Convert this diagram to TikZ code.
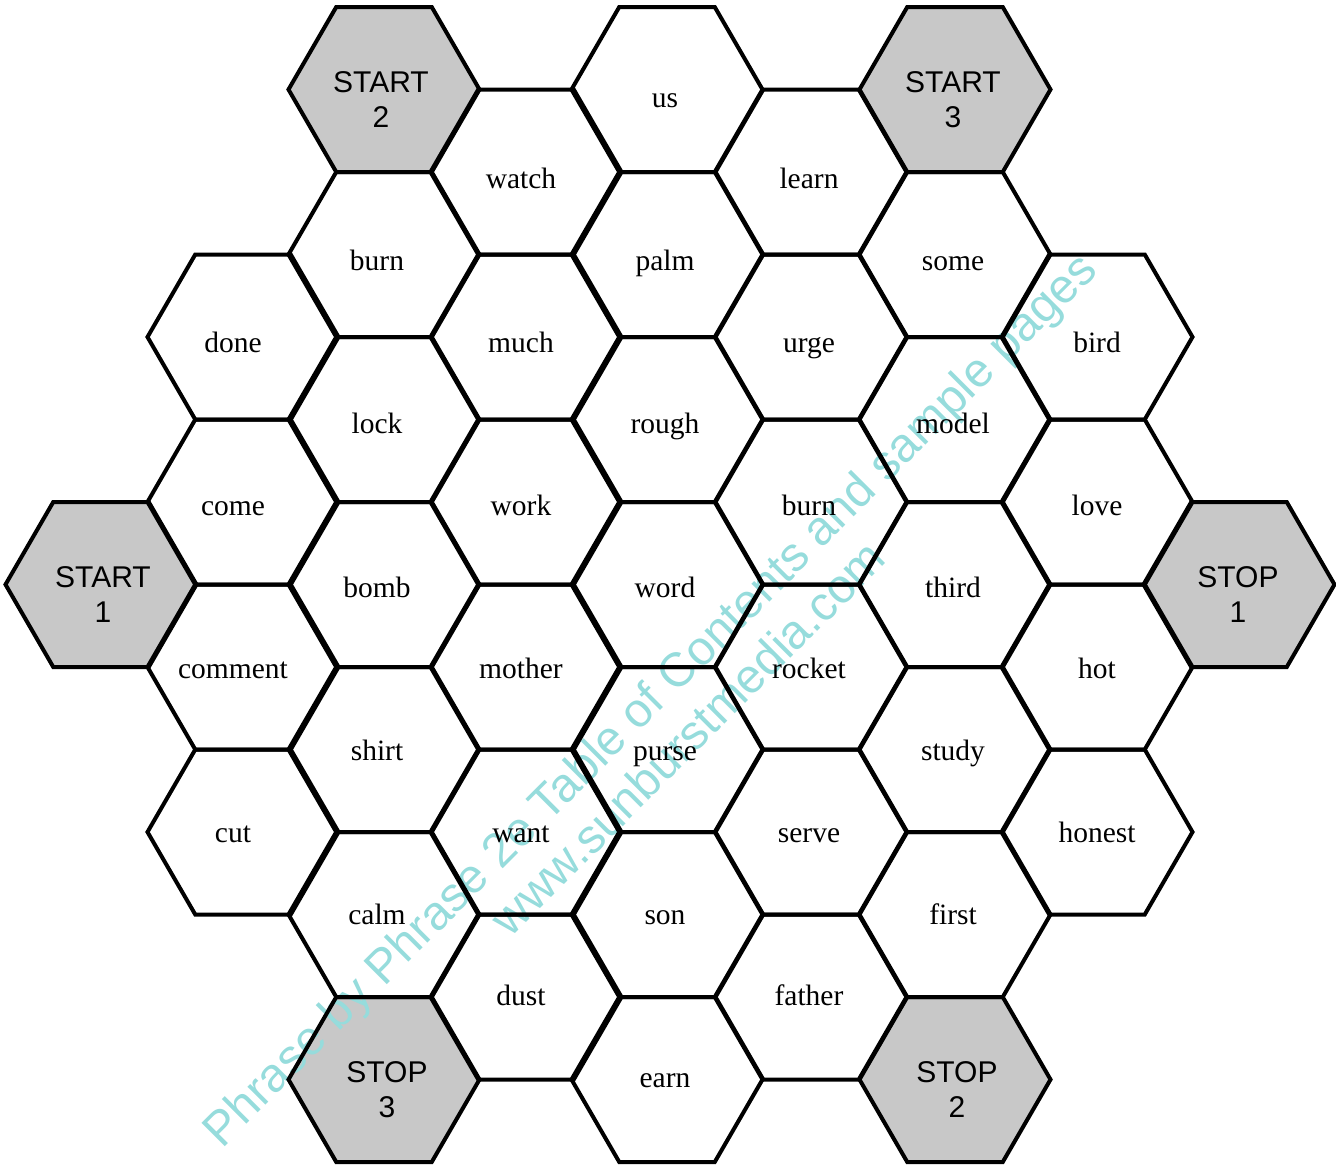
\documentclass[tikz,border=0pt]{standalone}
\usepackage{fontspec}
\setmainfont{Liberation Serif}
\newfontfamily\arialf{Liberation Sans}
\definecolor{hexgray}{RGB}{200,200,200}
\definecolor{wmcyan}{RGB}{150,220,220}
\begin{document}
\begin{tikzpicture}[x=1pt,y=-1pt,
  hexline/.style={line width=4pt, line join=miter},
  hexfill/.style={fill=hexgray},
  wordlabel/.style={font=\fontsize{29.5}{35}\selectfont, inner sep=0pt, anchor=base},
  endlabel/.style={font=\arialf\fontsize{30}{35}\selectfont, align=center, inner sep=0pt},
  wmtext/.style={font=\arialf\fontsize{48}{55}\selectfont, align=center, inner sep=0pt, text=wmcyan}
]
\useasboundingbox (0,0) rectangle (1336,1165);

% gray start/stop cells: fills
\foreach \c/\r/\la/\lb/\tx in {0/6/START/1/103, 2/0/START/2/381, 6/0/START/3/953,
                               8/6/STOP/1/1238, 6/12/STOP/2/957, 2/12/STOP/3/387} {
  \pgfmathsetmacro\hx{{101,243,384,526,667,811,955,1097,1239}[\c]}
  \pgfmathsetmacro\hy{89.5+82.5*\r}
  \fill[hexfill, shift={(\hx,\hy)}] (-95.5,0) -- (-47.75,-82.5) -- (47.75,-82.5) -- (95.5,0) -- (47.75,82.5) -- (-47.75,82.5) -- cycle;
}

% watermark
\node[wmtext, rotate=45] (wm) at (668,718) {Phrase by Phrase 2e Table of Contents and sample pages\\www.sunburstmedia.com};

% gray cells: outlines and labels
\foreach \c/\r/\la/\lb/\tx in {0/6/START/1/103, 2/0/START/2/381, 6/0/START/3/953,
                               8/6/STOP/1/1238, 6/12/STOP/2/957, 2/12/STOP/3/387} {
  \pgfmathsetmacro\hx{{101,243,384,526,667,811,955,1097,1239}[\c]}
  \pgfmathsetmacro\hy{89.5+82.5*\r}
  \draw[hexline, shift={(\hx,\hy)}] (-95.5,0) -- (-47.75,-82.5) -- (47.75,-82.5) -- (95.5,0) -- (47.75,82.5) -- (-47.75,82.5) -- cycle;
  \node[endlabel] (g\c-\r) at (\tx,\hy+10) {\la\\\lb};
}

% word cells
\foreach \c/\r/\w in {1/3/done, 1/5/come, 1/7/comment, 1/9/cut,
  2/2/burn, 2/4/lock, 2/6/bomb, 2/8/shirt, 2/10/calm,
  3/1/watch, 3/3/much, 3/5/work, 3/7/mother, 3/9/want, 3/11/dust,
  4/0/us, 4/2/palm, 4/4/rough, 4/6/word, 4/8/purse, 4/10/son, 4/12/earn,
  5/1/learn, 5/3/urge, 5/5/burn, 5/7/rocket, 5/9/serve, 5/11/father,
  6/2/some, 6/4/model, 6/6/third, 6/8/study, 6/10/first,
  7/3/bird, 7/5/love, 7/7/hot, 7/9/honest} {
  \pgfmathsetmacro\hx{{101,243,384,526,667,811,955,1097,1239}[\c]}
  \pgfmathsetmacro\hy{89.5+82.5*\r}
  \pgfmathsetmacro\tx{233+144*(\c-1)}
  \pgfmathsetmacro\ty{107+81.7*\r}
  \draw[hexline, shift={(\hx,\hy)}] (-95.5,0) -- (-47.75,-82.5) -- (47.75,-82.5) -- (95.5,0) -- (47.75,82.5) -- (-47.75,82.5) -- cycle;
  \node[wordlabel] (t\c-\r) at (\tx,\ty) {\w};
}
\end{tikzpicture}
\end{document}
